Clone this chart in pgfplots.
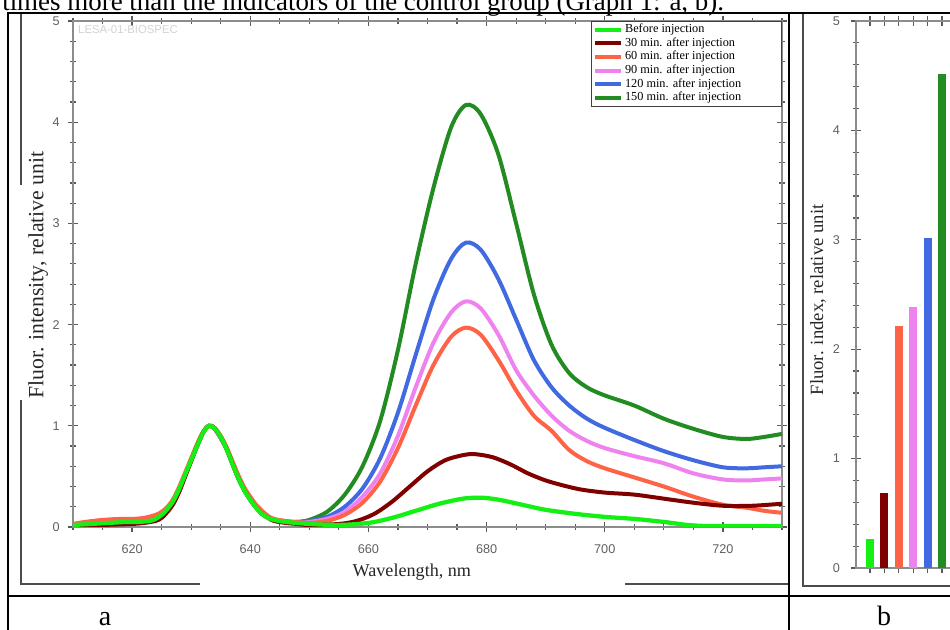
\documentclass[border=0pt]{standalone}
\usepackage{pgfplots}
\pgfplotsset{compat=1.18}
\usepackage{fontspec}
\setmainfont{Liberation Serif}
\newfontfamily\arial{Liberation Sans}
\definecolor{cLime}{RGB}{20,240,20}
\definecolor{cMaroon}{RGB}{128,0,0}
\definecolor{cTomato}{RGB}{255,99,71}
\definecolor{cViolet}{RGB}{238,130,238}
\definecolor{cBlue}{RGB}{65,105,225}
\definecolor{cForest}{RGB}{34,139,34}
\definecolor{axgray}{RGB}{140,140,140}
\definecolor{tkgray}{RGB}{90,90,90}
\definecolor{lblgray}{RGB}{95,95,95}
\pgfplotsset{
  myax/.style={
    scale only axis, enlargelimits=false,
    tick align=center, major tick length=7pt, minor tick length=4.5pt,
    every tick/.style={tkgray, line width=0.9pt},
    axis line style={axgray, line width=1.5pt},
    ticklabel style={font=\arial\fontsize{9.5}{11}\selectfont, text=lblgray},
    /pgf/number format/assume math mode=true,
    ymin=0, ymax=5, ytick={0,1,2,3,4,5}, minor ytick={0,0.2,...,5},
  }
}
\begin{document}
\begin{tikzpicture}[x=0.75pt,y=-0.75pt]
\useasboundingbox (0,0) rectangle (950,630);
\clip (0,0) rectangle (950,630);
% heading text
\node[anchor=base west, inner sep=0pt, font=\fontsize{20.2}{24}\selectfont] at (2,10.5) {times more than the indicators of the control group (Graph 1: a, b).};
% image frames
\draw[gray!60!black, line width=0.8pt] (21,13) -- (21,185);
\draw[gray!60!black, line width=0.8pt] (21,400) -- (21,584) -- (200,584);
\draw[gray!60!black, line width=0.8pt] (625,584) -- (789,584);
\draw[gray!60!black, line width=0.8pt] (803,13) -- (803,586) -- (950,586);
% table lines
\draw[black, line width=2pt] (7,13) -- (950,13);
\draw[black, line width=2pt] (7,596) -- (950,596);
\draw[black, line width=2pt] (8,13) -- (8,630);
\draw[black, line width=2pt] (789,13) -- (789,630);
\node[anchor=base, inner sep=0pt, font=\fontsize{21}{24}\selectfont] at (105,625) {a};
\node[anchor=base, inner sep=0pt, font=\fontsize{21}{24}\selectfont] at (884,625) {b};

% ---------------- panel a ----------------
\begin{axis}[myax,
  at={(54.75pt,-395.25pt)}, anchor=south west,
  width=531.75pt, height=379.5pt,
  xmin=610, xmax=730,
  xtick={620,640,...,720}, minor xtick={610,615,...,730},
  xticklabel style={yshift=-6pt},
  yticklabel style={xshift=-3pt},
  xlabel={Wavelength, nm},
  xlabel style={at={(axis description cs:0.478,-0.0988)}, anchor=base, font=\fontsize{13.6}{15}\selectfont, text=black!85},
  ylabel={Fluor. intensity, relative unit},
  ylabel style={at={(axis description cs:-0.049,0.498)}, anchor=center, font=\fontsize{16.3}{17}\selectfont, text=black!85},
  legend image code/.code={\draw[#1] (0pt,0pt) -- (20pt,0pt);},
  legend cell align=left,
  legend style={at={(1,1)}, anchor=north east, draw=black!75, line width=0.6pt, fill=white,
    inner sep=1.2pt, row sep=0pt, font=\fontsize{9.2}{10}\selectfont,
    nodes={inner ysep=0pt, inner xsep=1.2pt, text height=7.2pt, text depth=3pt}},
]
\addlegendimage{cLime, line width=3pt}\addlegendentry{\makebox[115pt][l]{Before injection}}
\addlegendimage{cMaroon, line width=3pt}\addlegendentry{30 min. after injection}
\addlegendimage{cTomato, line width=3pt}\addlegendentry{60 min. after injection}
\addlegendimage{cViolet, line width=3pt}\addlegendentry{90 min. after injection}
\addlegendimage{cBlue, line width=3pt}\addlegendentry{120 min. after injection}
\addlegendimage{cForest, line width=3pt}\addlegendentry{150 min. after injection}

\node[anchor=west, inner sep=0pt, text=gray!35, font=\arial\fontsize{8.5}{10}\selectfont] at (rel axis cs:0.007,0.984) {LESA-01-BIOSPEC};

% 150 min
\addplot[cForest, line width=3pt, smooth, forget plot] coordinates {
(610,0.02)(616,0.04)(621,0.05)(624,0.08)(626,0.18)(628,0.38)(630,0.66)(632,0.93)(633,1.0)(634,0.97)(636,0.77)(638,0.48)(640,0.27)(642,0.13)(644,0.07)(646,0.05)(648,0.05)
(650,0.07)(653,0.15)(656,0.32)(659,0.6)(662,1.05)(665,1.75)(668,2.6)(671,3.35)(674,3.95)(676.5,4.17)(679,4.08)(682,3.68)(685,3.0)(688,2.3)(691,1.8)(694,1.52)(697,1.38)(700,1.3)(705,1.2)(710,1.07)(715,0.97)(720,0.89)(724,0.87)(727,0.89)(730,0.92)};
% 120 min
\addplot[cBlue, line width=3pt, smooth, forget plot] coordinates {
(610,0.02)(616,0.04)(621,0.05)(624,0.08)(626,0.18)(628,0.38)(630,0.66)(632,0.93)(633,1.0)(634,0.97)(636,0.77)(638,0.48)(640,0.27)(642,0.13)(644,0.07)(646,0.05)(648,0.05)
(650,0.06)(653,0.1)(656,0.2)(659,0.38)(662,0.68)(665,1.13)(668,1.7)(671,2.25)(674,2.65)(676.5,2.81)(679,2.74)(682,2.45)(685,2.05)(688,1.65)(691,1.38)(694,1.2)(697,1.07)(700,0.98)(705,0.86)(710,0.75)(715,0.66)(720,0.59)(724,0.58)(727,0.59)(730,0.6)};
% 90 min
\addplot[cViolet, line width=3pt, smooth, forget plot] coordinates {
(610,0.02)(616,0.04)(621,0.05)(624,0.08)(626,0.18)(628,0.38)(630,0.66)(632,0.93)(633,1.0)(634,0.97)(636,0.77)(638,0.48)(640,0.27)(642,0.13)(644,0.07)(646,0.05)(648,0.04)
(650,0.05)(653,0.08)(656,0.15)(659,0.3)(662,0.53)(665,0.9)(668,1.38)(671,1.82)(674,2.12)(676.5,2.23)(679,2.16)(682,1.9)(685,1.55)(688,1.3)(691,1.1)(694,0.95)(697,0.85)(700,0.78)(705,0.7)(710,0.63)(715,0.53)(720,0.47)(724,0.46)(727,0.47)(730,0.48)};
% 60 min
\addplot[cTomato, line width=3pt, smooth, forget plot] coordinates {
(610,0.03)(612,0.05)(615,0.07)(618,0.08)(620,0.08)(622,0.09)(624,0.12)(625,0.15)(626,0.2)(627,0.28)(628,0.4)(629,0.54)(630,0.68)(631,0.82)(632,0.94)(633,1.0)(634,0.98)(635,0.9)(636,0.79)(637,0.65)(638,0.51)(639,0.39)(640,0.3)(641,0.22)(642,0.16)(643,0.11)(644,0.08)(646,0.06)(648,0.05)
(650,0.04)(653,0.06)(656,0.12)(659,0.24)(662,0.45)(665,0.78)(668,1.2)(671,1.6)(674,1.88)(676.5,1.97)(679,1.9)(682,1.65)(685,1.35)(688,1.1)(691,0.95)(694,0.76)(697,0.65)(700,0.58)(705,0.49)(710,0.4)(715,0.3)(720,0.22)(724,0.19)(727,0.16)(730,0.14)};
% 30 min
\addplot[cMaroon, line width=3pt, smooth, forget plot] coordinates {
(610,0.01)(615,0.02)(620,0.03)(622,0.04)(624,0.06)(625,0.09)(626,0.15)(627,0.23)(628,0.35)(629,0.5)(630,0.65)(631,0.8)(632,0.93)(633,1.0)(634,0.97)(635,0.89)(636,0.77)(637,0.62)(638,0.48)(639,0.36)(640,0.27)(641,0.19)(642,0.13)(643,0.09)(644,0.06)(646,0.04)(648,0.03)
(650,0.02)(655,0.03)(658,0.06)(661,0.13)(664,0.25)(667,0.4)(670,0.55)(673,0.66)(676,0.71)(678,0.72)(681,0.69)(684,0.62)(687,0.53)(690,0.46)(693,0.41)(696,0.37)(700,0.34)(705,0.32)(710,0.28)(715,0.24)(720,0.21)(725,0.21)(730,0.23)};
% before injection
\addplot[cLime, line width=3.2pt, smooth, forget plot] coordinates {
(610,0.02)(613,0.03)(616,0.04)(619,0.05)(621,0.05)(623,0.06)(624,0.08)(625,0.12)(626,0.18)(627,0.26)(628,0.38)(629,0.52)(630,0.66)(631,0.8)(632,0.93)(633,1.0)(634,0.97)(635,0.89)(636,0.77)(637,0.62)(638,0.48)(639,0.36)(640,0.27)(641,0.19)(642,0.13)(643,0.09)(644,0.07)(646,0.05)(648,0.04)
(650,0.03)(655,0.02)(660,0.04)(664,0.09)(668,0.16)(672,0.23)(676,0.28)(679,0.29)(682,0.27)(686,0.22)(690,0.17)(695,0.13)(700,0.1)(705,0.08)(710,0.05)(714,0.02)(717,0.01)(720,0.01)(730,0.01)};
\end{axis}

% ---------------- panel b ----------------
\begin{axis}[myax,
  at={(642pt,-426pt)}, anchor=south west,
  width=108pt, height=410.25pt,
  xmin=0.0278, xmax=10.0278,
  xtick={1,...,9}, xticklabels={},
  yticklabel style={xshift=-5pt},
  ylabel={Fluor. index, relative unit},
  ylabel style={at={(axis description cs:-0.264,0.49)}, anchor=center, font=\fontsize{14}{15}\selectfont, text=black!85},
]
\addplot[ybar, bar width=6pt, fill=cLime, draw=none] coordinates {(1,0.265)};
\addplot[ybar, bar width=6pt, fill=cMaroon, draw=none] coordinates {(2,0.69)};
\addplot[ybar, bar width=6pt, fill=cTomato, draw=none] coordinates {(3,2.21)};
\addplot[ybar, bar width=6pt, fill=cViolet, draw=none] coordinates {(4,2.39)};
\addplot[ybar, bar width=6pt, fill=cBlue, draw=none] coordinates {(5,3.02)};
\addplot[ybar, bar width=6pt, fill=cForest, draw=none] coordinates {(6,4.52)};
\end{axis}
\end{tikzpicture}
\end{document}
